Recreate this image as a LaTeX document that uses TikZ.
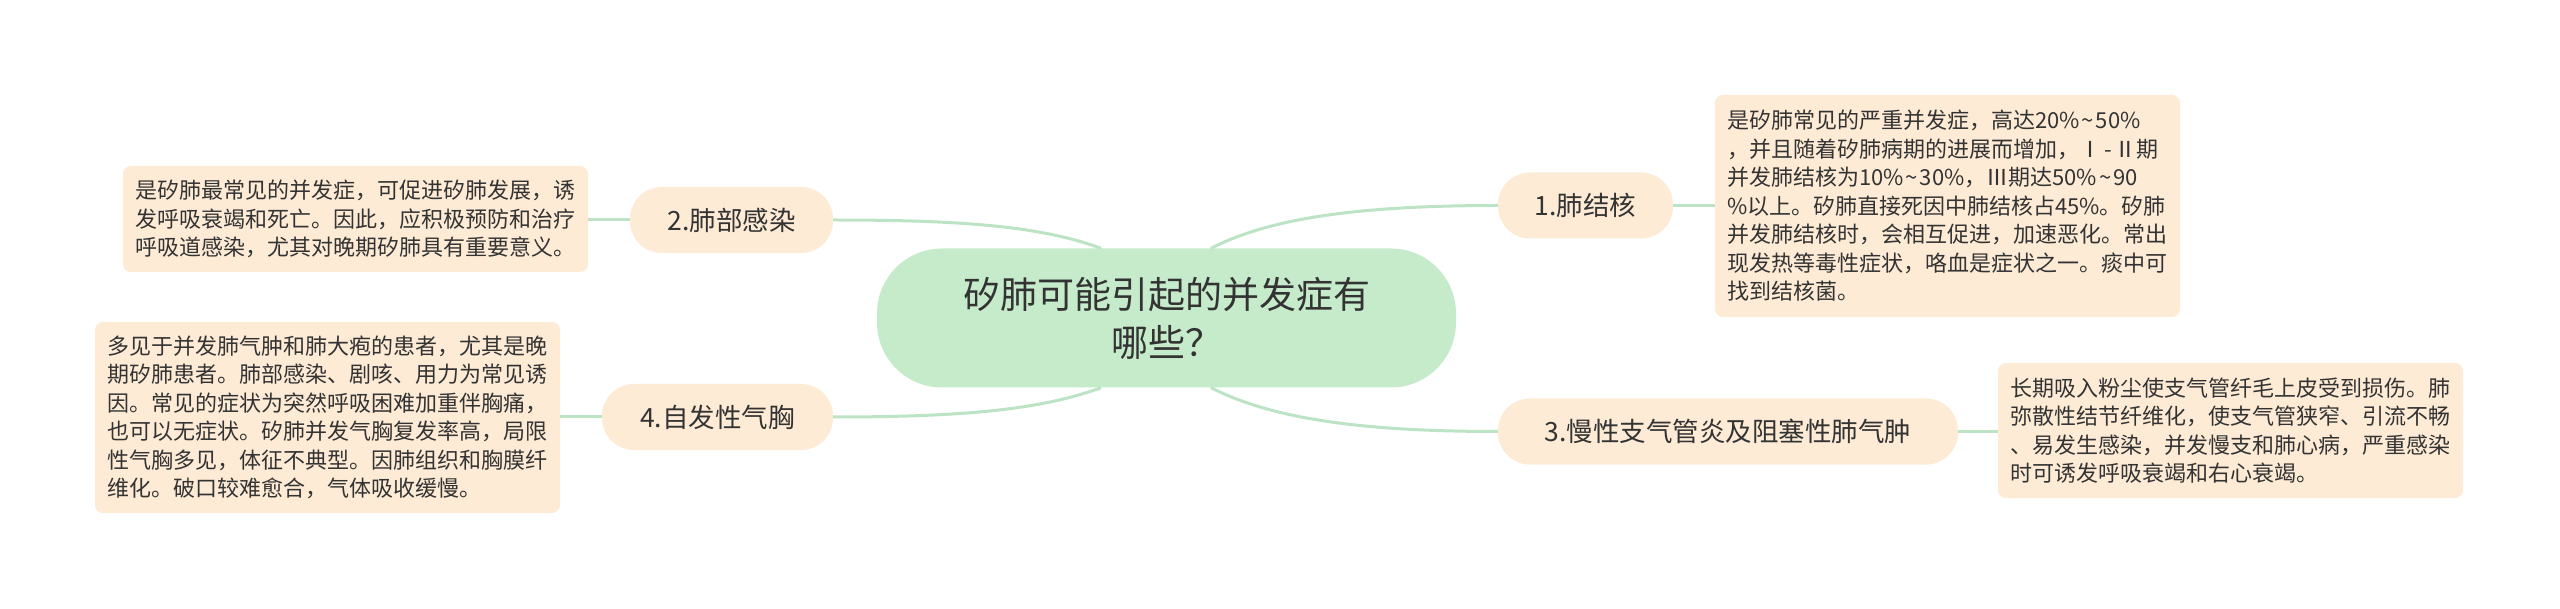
\documentclass[tikz,border=0pt]{standalone}
\usepackage{fontspec}
\setmainfont{Noto Sans CJK SC}
\definecolor{rootfill}{HTML}{C6EBCB}
\definecolor{peach}{HTML}{FDEBD5}
\definecolor{connc}{HTML}{BCE4C4}
\definecolor{txt}{HTML}{333333}
\newcommand{\tld}{\hspace{2pt}\textasciitilde\hspace{2pt}}
\begin{document}
\begin{tikzpicture}[x=1pt,y=-1pt,
  rootbox/.style={fill=rootfill, rounded corners=65pt, minimum width=579pt, minimum height=139pt, align=center, text=txt, font=\fontsize{37}{48}\selectfont, inner sep=0pt},
  branchbox/.style={fill=peach, rounded corners=32pt, minimum height=66pt, inner sep=0pt, text=txt, font=\fontsize{26.5}{30}\selectfont},
  leafbox/.style={fill=peach, rounded corners=8pt, text width=441pt, inner xsep=12pt, inner ysep=0pt, align=left, text=txt, font=\fontsize{22}{28.5}\selectfont},
  link/.style={draw=connc, line width=3pt}]
\fill[white] (0,0) rectangle (2560,609);
\useasboundingbox (0,0) rectangle (2560,609);

\node[rootbox] (root) at (1166.5,318) {矽肺可能引起的并发症有\\哪些？};

\node[branchbox, minimum width=175pt] (n1) at (1585.5,205.5) {1.肺结核};
\node[branchbox, minimum width=203pt] (n2) at (731.5,220) {2.肺部感染};
\node[branchbox, minimum width=460pt] (n3) at (1728,431.5) {3.慢性支气管炎及阻塞性肺气肿};
\node[branchbox, minimum width=231pt] (n4) at (717.5,417) {4.自发性气胸};

\node[leafbox, minimum height=222pt] (l1) at (1947.5,206) {是矽肺常见的严重并发症，高达20\%\tld 50\%\\%
，并且随着矽肺病期的进展而增加，Ⅰ\hspace{3pt}-\hspace{3pt}Ⅱ期\\%
并发肺结核为10\%\tld 30\%，Ⅲ期达50\%\tld 90\\%
\%以上。矽肺直接死因中肺结核占45\%。矽肺\\%
并发肺结核时，会相互促进，加速恶化。常出\\%
现发热等毒性症状，咯血是症状之一。痰中可\\%
找到结核菌。};

\node[leafbox, minimum height=106pt] (l2) at (355.5,219) {是矽肺最常见的并发症，可促进矽肺发展，诱\\%
发呼吸衰竭和死亡。因此，应积极预防和治疗\\%
呼吸道感染，尤其对晚期矽肺具有重要意义。};

\node[leafbox, minimum height=135pt] (l3) at (2230.5,430.5) {长期吸入粉尘使支气管纤毛上皮受到损伤。肺\\%
弥散性结节纤维化，使支气管狭窄、引流不畅\\%
、易发生感染，并发慢支和肺心病，严重感染\\%
时可诱发呼吸衰竭和右心衰竭。};

\node[leafbox, minimum height=191pt] (l4) at (327.5,417.5) {多见于并发肺气肿和肺大疱的患者，尤其是晚\\%
期矽肺患者。肺部感染、剧咳、用力为常见诱\\%
因。常见的症状为突然呼吸困难加重伴胸痛，\\%
也可以无症状。矽肺并发气胸复发率高，局限\\%
性气胸多见，体征不典型。因肺组织和胸膜纤\\%
维化。破口较难愈合，气体吸收缓慢。};

\draw[link] ([xshift=-65.5pt]root.north) .. controls +(-60,-22) and +(130,0) .. (n2.east);
\draw[link] ([xshift=44.5pt]root.north) .. controls +(55,-28) and +(-150,0) .. (n1.west);
\draw[link] ([xshift=-65.5pt]root.south) .. controls +(-60,22) and +(130,0) .. (n4.east);
\draw[link] ([xshift=44.5pt]root.south) .. controls +(55,28) and +(-150,0) .. (n3.west);

\draw[link] (n1.east) -- (n1.east -| l1.west);
\draw[link] (n2.west) -- (n2.west -| l2.east);
\draw[link] (n3.east) -- (n3.east -| l3.west);
\draw[link] (n4.west) -- (n4.west -| l4.east);
\end{tikzpicture}
\end{document}
